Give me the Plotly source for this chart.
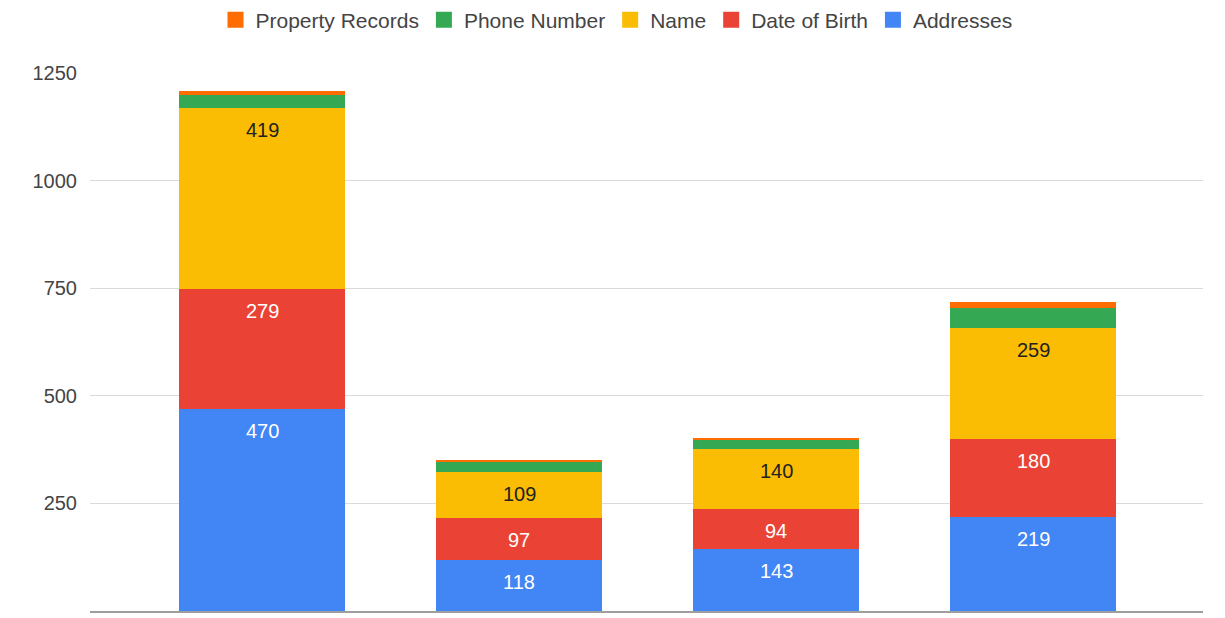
import plotly.graph_objects as go

categories = ["A", "B", "C", "D"]
addresses = [470, 118, 143, 219]
date_of_birth = [279, 97, 94, 180]
name = [419, 109, 140, 259]
phone_number = [30, 22, 20, 47]
property_records = [10, 5, 6, 12]

y_ticks = [0, 250, 500, 750, 1000, 1250]

series = [
    ("Addresses", addresses, "#4285F4", "#ffffff", True),
    ("Date of Birth", date_of_birth, "#EA4335", "#ffffff", True),
    ("Name", name, "#FBBC04", "#222222", True),
    ("Phone Number", phone_number, "#34A853", "#222222", False),
    ("Property Records", property_records, "#FF6D01", "#222222", False),
]

FONT = "Liberation Sans, Arial, sans-serif"

fig = go.Figure()
cum = [0] * len(categories)
annotations = []
for label, vals, color, tcolor, show_label in series:
    fig.add_trace(go.Bar(
        x=categories, y=vals, name=label,
        marker=dict(color=color, line=dict(width=0)),
        width=0.645, showlegend=False,
    ))
    cum = [c + v for c, v in zip(cum, vals)]
    if show_label:
        for cat, top, v in zip(categories, cum, vals):
            annotations.append(dict(
                x=cat, y=top, xref="x", yref="y", text=str(v),
                showarrow=False, yshift=-22, yanchor="middle",
                font=dict(family=FONT, size=20, color=tcolor),
            ))

# legend entries (order as in the reference)
for label, vals, color, tcolor, show_label in reversed(series):
    fig.add_trace(go.Scatter(
        x=[None], y=[None], mode="markers", name=label,
        marker=dict(symbol="square", size=16, color=color),
        showlegend=True,
    ))

# the page adds an 8px body margin, so the figure is sized to fill the rest
W, H = 1217, 610

fig.update_layout(
    width=W, height=H,
    margin=dict(l=82, r=22, t=65, b=7),
    paper_bgcolor="white", plot_bgcolor="white",
    barmode="stack",
    font=dict(family=FONT, size=20, color="#444444"),
    annotations=annotations,
    legend=dict(
        orientation="h", xref="container", yref="container",
        x=0.5, xanchor="center", y=1 - 12 / H, yanchor="middle",
        font=dict(family=FONT, size=21, color="#444444"),
        traceorder="normal", itemsizing="trace",
    ),
    xaxis=dict(
        range=[-0.67, 3.66], showticklabels=False, showgrid=False,
        showline=True, linecolor="#9e9e9e", linewidth=2, ticks="",
        zeroline=False, fixedrange=True,
    ),
    yaxis=dict(
        range=[0, 1250], tickvals=y_ticks, ticktext=[str(t) for t in y_ticks],
        showgrid=True, gridcolor="#dadada", gridwidth=1,
        zeroline=False, showline=False, ticks="",
        ticklabelstandoff=12,
        tickfont=dict(family=FONT, size=20, color="#444444"),
    ),
)

fig.write_html("out.html")
